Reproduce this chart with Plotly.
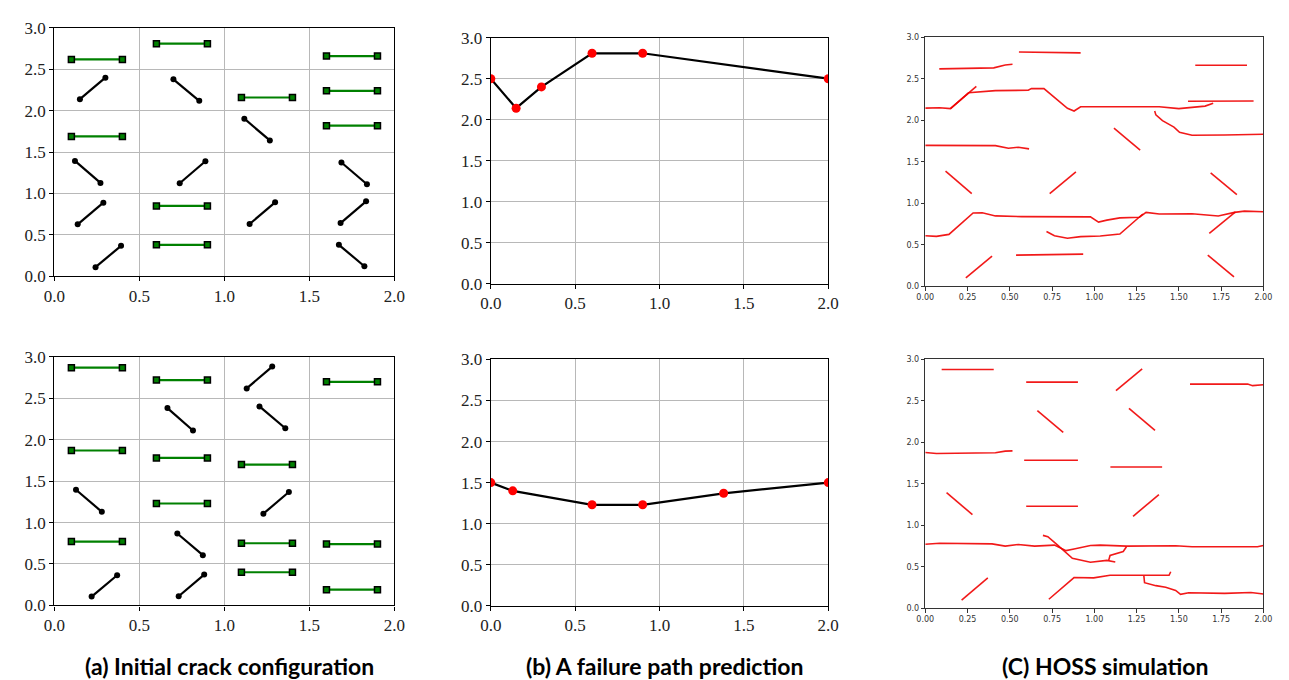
import plotly.graph_objects as go

# ---------------- data ----------------
# (a) top: horizontal (green) cracks
a1_h_y = [2.62, 2.81, 2.16, 2.66, 2.24, 1.82, 1.69, 0.85, 0.38]
a1_h_x0 = [0.1, 0.6, 1.1, 1.6, 1.6, 1.6, 0.1, 0.6, 0.6]
a1_h_x1 = [0.4, 0.9, 1.4, 1.9, 1.9, 1.9, 0.4, 0.9, 0.9]
# (a) top: inclined (black) cracks
a1_i_x0 = [0.15, 0.70, 1.117, 0.121, 0.737, 1.688, 0.137, 1.148, 1.683, 0.242, 1.673]
a1_i_y0 = [2.14, 2.38, 1.904, 1.394, 1.124, 1.375, 0.627, 0.631, 0.642, 0.110, 0.380]
a1_i_x1 = [0.30, 0.852, 1.267, 0.271, 0.888, 1.838, 0.288, 1.298, 1.833, 0.392, 1.823]
a1_i_y1 = [2.40, 2.12, 1.641, 1.128, 1.39, 1.112, 0.889, 0.893, 0.905, 0.368, 0.121]

# (a) bottom
a2_h_y = [2.87, 2.72, 2.70, 1.87, 1.78, 1.70, 1.23, 0.77, 0.75, 0.74, 0.40, 0.19]
a2_h_x0 = [0.1, 0.6, 1.6, 0.1, 0.6, 1.1, 0.6, 0.1, 1.1, 1.6, 1.1, 1.6]
a2_h_x1 = [0.4, 0.9, 1.9, 0.4, 0.9, 1.4, 0.9, 0.4, 1.4, 1.9, 1.4, 1.9]
a2_i_x0 = [1.131, 0.665, 1.206, 0.127, 1.229, 0.723, 0.219, 0.731]
a2_i_y0 = [2.62, 2.382, 2.402, 1.396, 1.107, 0.868, 0.106, 0.110]
a2_i_x1 = [1.281, 0.815, 1.358, 0.279, 1.379, 0.873, 0.369, 0.881]
a2_i_y1 = [2.883, 2.112, 2.139, 1.130, 1.369, 0.606, 0.364, 0.372]

# (b) failure path predictions
b1_x = [0.0, 0.15, 0.30, 0.60, 0.90, 2.0]
b1_y = [2.50, 2.14, 2.40, 2.81, 2.81, 2.50]
b2_x = [0.0, 0.13, 0.60, 0.90, 1.38, 2.0]
b2_y = [1.50, 1.40, 1.23, 1.23, 1.37, 1.50]

# (c) HOSS simulation crack traces (top)
c1_x = [
    [0.083, 0.405, 0.473, 0.516],
    [0.554, 0.919],
    [1.597, 1.903],
    [0.0, 0.085, 0.149, 0.256, 0.415, 0.609, 0.628, 0.702, 0.841, 0.88, 0.919, 1.19, 1.384, 1.50, 1.578, 1.655, 1.703],
    [0.149, 0.302],
    [1.554, 1.942],
    [1.357, 1.364, 1.403, 1.471, 1.504, 1.578, 1.771, 2.0],
    [0.0, 0.415, 0.492, 0.550, 0.614],
    [1.116, 1.271],
    [0.120, 0.275],
    [0.736, 0.891],
    [1.688, 1.843],
    [0.0, 0.066, 0.140, 0.283, 0.337, 0.415, 0.570, 0.977, 1.025, 1.074, 1.151, 1.267, 1.306, 1.384, 1.578, 1.733, 1.829, 1.888, 2.0],
    [0.717, 0.764, 0.841, 0.919, 1.035, 1.151, 1.287],
    [1.680, 1.835],
    [0.240, 0.395],
    [0.537, 0.934],
    [1.671, 1.826],
]
c1_y = [
    [2.621, 2.633, 2.668, 2.676],
    [2.824, 2.813],
    [2.664, 2.664],
    [2.148, 2.152, 2.141, 2.332, 2.359, 2.363, 2.383, 2.383, 2.145, 2.113, 2.164, 2.164, 2.164, 2.141, 2.156, 2.172, 2.207],
    [2.141, 2.41],
    [2.23, 2.234],
    [2.113, 2.066, 1.996, 1.918, 1.855, 1.820, 1.824, 1.832],
    [1.699, 1.695, 1.664, 1.676, 1.656],
    [1.906, 1.641],
    [1.387, 1.117],
    [1.117, 1.379],
    [1.367, 1.105],
    [0.609, 0.602, 0.625, 0.883, 0.887, 0.848, 0.840, 0.836, 0.773, 0.797, 0.824, 0.832, 0.891, 0.871, 0.875, 0.848, 0.891, 0.906, 0.898],
    [0.660, 0.609, 0.578, 0.598, 0.605, 0.629, 0.871],
    [0.637, 0.898],
    [0.102, 0.363],
    [0.375, 0.387],
    [0.375, 0.113],
]

# (c) HOSS simulation crack traces (bottom)
c2_x = [
    [0.097, 0.405],
    [0.597, 0.903],
    [1.128, 1.283],
    [1.566, 1.907, 1.936, 2.0],
    [0.663, 0.816],
    [1.205, 1.359],
    [0.0, 0.066, 0.415, 0.473, 0.516],
    [0.585, 0.903],
    [1.095, 1.401],
    [0.126, 0.279],
    [0.597, 0.903],
    [1.229, 1.382],
    [0.0, 0.085, 0.395, 0.473, 0.550, 0.647, 0.764, 0.833, 0.880, 0.977, 1.035, 1.190, 1.481, 1.578, 1.965, 2.0],
    [0.696, 0.725, 0.783, 0.870, 0.977, 1.074, 1.124],
    [1.085, 1.093, 1.171, 1.19],
    [0.215, 0.370],
    [0.731, 0.880, 0.996, 1.093, 1.442, 1.452],
    [1.293, 1.297, 1.364, 1.422, 1.481, 1.510, 1.558, 1.771, 1.926, 2.0],
]
c2_y = [
    [2.879, 2.879],
    [2.727, 2.727],
    [2.625, 2.887],
    [2.703, 2.703, 2.684, 2.695],
    [2.383, 2.121],
    [2.41, 2.145],
    [1.879, 1.867, 1.875, 1.895, 1.898],
    [1.785, 1.785],
    [1.703, 1.703],
    [1.395, 1.129],
    [1.23, 1.23],
    [1.109, 1.371],
    [0.773, 0.785, 0.777, 0.750, 0.770, 0.750, 0.762, 0.695, 0.715, 0.758, 0.762, 0.750, 0.754, 0.742, 0.742, 0.758],
    [0.879, 0.863, 0.762, 0.602, 0.555, 0.578, 0.559],
    [0.578, 0.637, 0.684, 0.742],
    [0.098, 0.367],
    [0.109, 0.371, 0.367, 0.398, 0.398, 0.441],
    [0.391, 0.309, 0.273, 0.254, 0.215, 0.168, 0.188, 0.180, 0.191, 0.172],
]

captions = ["(a) Initial crack configuration", "(b) A failure path prediction", "(C) HOSS simulation"]

# ---------------- figure ----------------
W, H = 1289, 680
fig = go.Figure()

def seg_xy(x0, y0, x1, y1):
    xs, ys = [], []
    for a, b, c, d in zip(x0, y0, x1, y1):
        xs += [a, c, None]
        ys += [b, d, None]
    return xs, ys

def add_a(hy, hx0, hx1, ix0, iy0, ix1, iy1, xa, ya):
    xs, ys = seg_xy(hx0, hy, hx1, hy)
    fig.add_trace(go.Scatter(x=xs, y=ys, xaxis=xa, yaxis=ya, mode="lines+markers",
                             line=dict(color="#008000", width=2.2),
                             marker=dict(symbol="square", size=6, color="#008000",
                                         line=dict(color="black", width=1.5)),
                             showlegend=False))
    xs, ys = seg_xy(ix0, iy0, ix1, iy1)
    fig.add_trace(go.Scatter(x=xs, y=ys, xaxis=xa, yaxis=ya, mode="lines+markers",
                             line=dict(color="black", width=2.2),
                             marker=dict(symbol="circle", size=6, color="black"),
                             showlegend=False))

add_a(a1_h_y, a1_h_x0, a1_h_x1, a1_i_x0, a1_i_y0, a1_i_x1, a1_i_y1, "x", "y")
add_a(a2_h_y, a2_h_x0, a2_h_x1, a2_i_x0, a2_i_y0, a2_i_x1, a2_i_y1, "x4", "y4")

for bx, by, xa, ya in [(b1_x, b1_y, "x2", "y2"), (b2_x, b2_y, "x5", "y5")]:
    fig.add_trace(go.Scatter(x=bx, y=by, xaxis=xa, yaxis=ya, mode="lines+markers",
                             line=dict(color="black", width=2.2),
                             marker=dict(symbol="circle", size=9, color="red"),
                             showlegend=False))

for cx, cy, xa, ya in [(c1_x, c1_y, "x3", "y3"), (c2_x, c2_y, "x6", "y6")]:
    xs, ys = [], []
    for px, py in zip(cx, cy):
        xs += px + [None]
        ys += py + [None]
    fig.add_trace(go.Scatter(x=xs, y=ys, xaxis=xa, yaxis=ya, mode="lines",
                             line=dict(color="rgba(240,0,0,0.9)", width=1.6),
                             showlegend=False))

def px_x(a, b):
    return [a / W, b / W]

def px_y(top, bottom):
    return [1 - bottom / H, 1 - top / H]

serif = dict(family="Liberation Serif", size=17, color="#222")
sans = dict(family="DejaVu Sans", size=8, color="#333")

def ax_serif(domain, rng, anchor):
    return dict(domain=domain, range=rng, anchor=anchor, dtick=0.5, tick0=0, tickformat=".1f",
                showgrid=True, gridcolor="#b8b8b8", gridwidth=1, zeroline=False,
                showline=True, linecolor="black", linewidth=1.3, mirror=True,
                ticks="outside", ticklen=4, tickcolor="black", tickfont=serif)

def ax_sans(domain, rng, anchor, dtick, fmt):
    return dict(domain=domain, range=rng, anchor=anchor, dtick=dtick, tick0=0, tickformat=fmt,
                showgrid=False, zeroline=False,
                showline=True, linecolor="#333", linewidth=1, mirror=True,
                ticks="outside", ticklen=3.5, tickcolor="#333", tickfont=sans)

fig.update_layout(
    width=W, height=H, margin=dict(l=0, r=0, t=0, b=0),
    paper_bgcolor="white", plot_bgcolor="white",
    xaxis=ax_serif(px_x(36, 382), [0, 2], "y"),
    yaxis=ax_serif(px_y(11.3, 266.7), [0, 3], "x"),
    xaxis2=ax_serif(px_x(480, 823.3), [0, 2], "y2"),
    yaxis2=ax_serif(px_y(21.3, 274.3), [0, 3], "x2"),
    xaxis3=ax_sans(px_x(922, 1266), [0, 2], "y3", 0.25, ".2f"),
    yaxis3=ax_sans(px_y(21, 277), [0, 3], "x3", 0.5, ".1f"),
    xaxis4=ax_serif(px_x(36, 382), [0, 2], "y4"),
    yaxis4=ax_serif(px_y(349.7, 605.3), [0, 3], "x4"),
    xaxis5=ax_serif(px_x(480, 823.3), [0, 2], "y5"),
    yaxis5=ax_serif(px_y(352.3, 605.7), [0, 3], "x5"),
    xaxis6=ax_sans(px_x(922, 1266), [0, 2], "y6", 0.25, ".2f"),
    yaxis6=ax_sans(px_y(352.3, 608.3), [0, 3], "x6", 0.5, ".1f"),
)

cap_x = [214, 657, 1105]
for cx, txt in zip(cap_x, captions):
    fig.add_annotation(x=cx / W, y=1 - 668 / H, xref="paper", yref="paper",
                       text="<b>" + txt + "</b>", showarrow=False,
                       xanchor="center", yanchor="middle",
                       font=dict(family="Lato", size=23, color="black"))

fig.write_html("out.html")
